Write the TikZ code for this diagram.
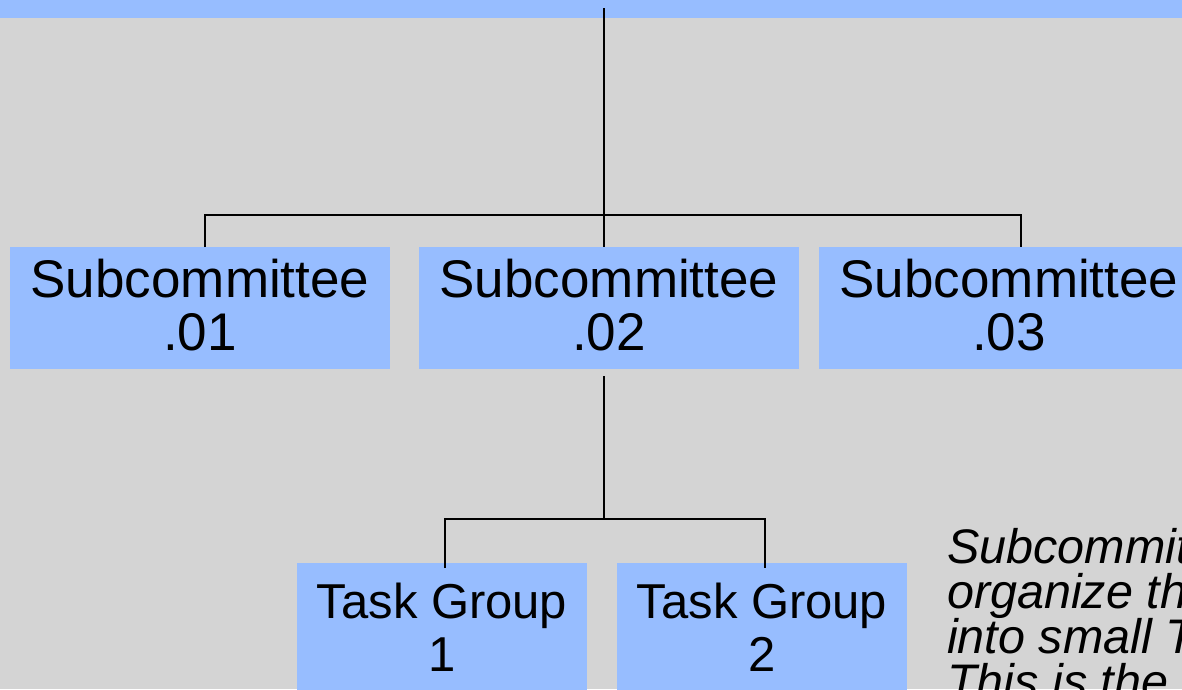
\documentclass[tikz,border=0pt]{standalone}
\usepackage{fontspec}
\setmainfont{Liberation Sans}
\definecolor{bg}{RGB}{212,212,212}
\definecolor{boxblue}{RGB}{151,189,255}
\begin{document}
\begin{tikzpicture}[x=1pt,y=-1pt,
  box/.style={fill=boxblue, draw=none, inner sep=0pt, outer sep=0pt, anchor=north west, minimum height=122pt},
  scbox/.style={box, minimum width=380pt},
  tgbox/.style={box, minimum width=290pt, minimum height=140pt},
  sclbl/.style={inner sep=0pt, anchor=base, font=\fontsize{53}{53}\selectfont},
  tglbl/.style={inner sep=0pt, anchor=base, font=\fontsize{49}{53}\selectfont},
  note/.style={inner sep=0pt, anchor=base west, font=\itshape\fontsize{48.5}{45}\selectfont},
  conn/.style={draw=black, line width=2.3pt}]
\useasboundingbox (0,0) rectangle (1182,689);
\clip (0,0) rectangle (1182,689);
\fill[bg] (0,0) rectangle (1182,689);
\node[box, minimum width=1182pt, minimum height=17.7pt] (top) at (0,0) {};
% boxes
\node[scbox] (sc1) at (10,247) {};
\node[scbox] (sc2) at (419,247) {};
\node[scbox] (sc3) at (819,247) {};
\node[tgbox] (tg1) at (297,563) {};
\node[tgbox] (tg2) at (617,563) {};
% labels
\node[sclbl] (sc1a) at (200,297) {Subcommittee};
\node[sclbl] (sc1b) at (200,350) {.01};
\node[sclbl] (sc2a) at (609,297) {Subcommittee};
\node[sclbl] (sc2b) at (609,350) {.02};
\node[sclbl] (sc3a) at (1009,297) {Subcommittee};
\node[sclbl] (sc3b) at (1009,350) {.03};
\node[tglbl] (tg1a) at (442,618) {Task Group};
\node[tglbl] (tg1b) at (442,671) {1};
\node[tglbl] (tg2a) at (762,618) {Task Group};
\node[tglbl] (tg2b) at (762,671) {2};
% note
\node[note] (n1) at (947,563) {Subcommitt};
\node[note] (n2) at (947,608) {organize th};
\node[note] (n3) at (947,653) {into small T};
\node[note] (n4) at (947,698) {This is the};
% connectors
\coordinate (root) at (604,8);
\coordinate (j1) at (604,215);
\coordinate (s1in) at (205,247);
\coordinate (s2in) at (604,247);
\coordinate (s3in) at (1021,247);
\coordinate (s2out) at (604,376);
\coordinate (j2) at (604,519);
\coordinate (t1in) at (445,568);
\coordinate (t2in) at (765,568);
\draw[conn] (root) -- (s2in);
\draw[conn] (s1in) |- (j1) -| (s3in);
\draw[conn] (s2out) -- (j2);
\draw[conn] (t1in) |- (j2) -| (t2in);
\end{tikzpicture}
\end{document}
